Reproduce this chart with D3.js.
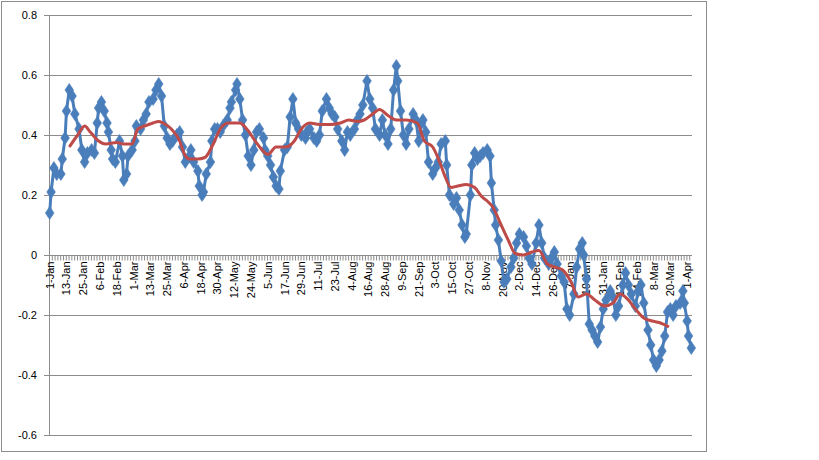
<!DOCTYPE html>
<html>
<head>
<meta charset="utf-8">
<script src="https://cdn.jsdelivr.net/npm/d3@7"></script>
<style>
  body { margin: 0; background: #fff; }
  text { font-family: "Liberation Sans", Arial, sans-serif; }
</style>
</head>
<body>
<div id="chart"></div>
<script>
// day offsets from 1-Jan (leap year) and the observed values
const days = [0,1,3,5,8,9,11,12,14,16,18,21,23,25,27,30,32,34,35,37,39,41,42,44,45,47,50,52,53,55,56,59,61,62,65,67,69,71,74,76,78,80,82,84,86,88,91,93,95,97,100,101,103,106,107,109,110,112,115,116,118,120,122,124,127,129,130,133,134,136,138,140,142,144,146,148,150,153,154,156,158,160,162,164,165,168,170,172,174,176,178,180,183,184,186,189,191,193,195,198,200,202,204,206,209,211,213,215,218,220,222,224,227,229,231,233,236,238,240,242,244,246,248,249,251,253,255,257,260,262,264,266,267,269,271,274,276,278,280,283,284,286,289,291,293,295,297,298,301,302,304,306,308,310,313,315,316,318,319,321,323,325,327,330,332,334,336,339,341,343,345,348,350,352,354,357,359,361,363,366,368,370,372,375,377,379,381,382,384,386,388,390,392,394,396,398,401,403,405,407,410,412,414,416,419,421,423,425,428,430,432,434,436,438,440,442,444,446,448,451,453,454,456,457,459];
const values = [0.14,0.21,0.29,0.27,0.27,0.32,0.39,0.48,0.55,0.53,0.47,0.42,0.35,0.31,0.34,0.35,0.34,0.44,0.49,0.51,0.48,0.44,0.41,0.35,0.32,0.31,0.38,0.33,0.25,0.27,0.33,0.35,0.38,0.43,0.42,0.45,0.47,0.51,0.52,0.55,0.57,0.53,0.43,0.39,0.37,0.38,0.40,0.41,0.36,0.31,0.33,0.35,0.31,0.28,0.23,0.20,0.21,0.27,0.31,0.38,0.42,0.42,0.41,0.43,0.45,0.49,0.51,0.55,0.57,0.52,0.45,0.40,0.33,0.30,0.35,0.41,0.42,0.39,0.35,0.33,0.30,0.26,0.23,0.22,0.28,0.35,0.36,0.46,0.52,0.44,0.42,0.40,0.39,0.41,0.42,0.39,0.38,0.40,0.48,0.52,0.49,0.47,0.46,0.42,0.38,0.35,0.41,0.40,0.42,0.45,0.47,0.50,0.58,0.52,0.49,0.42,0.40,0.45,0.40,0.37,0.42,0.55,0.63,0.58,0.48,0.40,0.37,0.42,0.47,0.45,0.38,0.44,0.45,0.41,0.31,0.27,0.29,0.31,0.37,0.38,0.30,0.20,0.17,0.19,0.15,0.10,0.06,0.07,0.20,0.30,0.34,0.32,0.33,0.34,0.35,0.33,0.24,0.15,0.10,0.05,-0.02,-0.09,-0.08,-0.04,-0.01,0.04,0.07,0.06,0.03,-0.01,-0.03,0.04,0.10,0.04,-0.01,-0.03,-0.01,0.01,-0.03,-0.07,-0.09,-0.18,-0.20,-0.13,-0.04,0.02,0.04,0.00,-0.08,-0.23,-0.25,-0.27,-0.29,-0.24,-0.18,-0.15,-0.12,-0.14,-0.20,-0.17,-0.10,-0.06,-0.10,-0.13,-0.17,-0.12,-0.10,-0.16,-0.25,-0.30,-0.35,-0.37,-0.35,-0.32,-0.27,-0.19,-0.18,-0.20,-0.17,-0.16,-0.12,-0.16,-0.22,-0.27,-0.31];

// moving average
const avgDays = [14,20,25,29,35,40,48,53,59,63,68,74,78,81,87,93,96,100,106,111,117,122,128,136,141,147,152,156,162,169,175,180,186,193,201,208,214,220,225,231,236,242,248,255,263,268,274,279,283,287,292,298,304,309,313,317,322,328,333,339,345,350,356,361,367,373,378,384,390,397,403,408,414,419,425,431,436,443];
const avgValues = [0.36,0.40,0.43,0.41,0.38,0.37,0.375,0.37,0.37,0.42,0.43,0.44,0.445,0.44,0.42,0.38,0.34,0.32,0.32,0.325,0.37,0.42,0.44,0.44,0.42,0.38,0.35,0.335,0.36,0.36,0.38,0.42,0.44,0.435,0.435,0.44,0.45,0.445,0.45,0.47,0.485,0.465,0.45,0.45,0.44,0.38,0.36,0.31,0.26,0.225,0.23,0.235,0.225,0.195,0.18,0.16,0.11,0.05,0.005,0.0,0.01,0.015,-0.03,-0.04,-0.05,-0.09,-0.14,-0.13,-0.15,-0.17,-0.16,-0.13,-0.15,-0.18,-0.21,-0.22,-0.225,-0.24];

const nDays = 460;
const labelEvery = 12;
const yTicks = [0.8, 0.6, 0.4, 0.2, 0, -0.2, -0.4, -0.6];

const start = new Date(2008, 0, 1);
const fmt = d3.timeFormat("%-d-%b");
const dayLabel = (i) => fmt(d3.timeDay.offset(start, i));

const svg = d3.select("#chart").append("svg").attr("width", 819).attr("height", 460);

svg.append("rect").attr("x", 1.5).attr("y", 1.5).attr("width", 705).attr("height", 450)
  .attr("fill", "#fff").attr("stroke", "#8c8c8c");

const x = d3.scaleBand().domain(d3.range(nDays)).range([49, 692]);
const xc = (d) => x(d) + x.bandwidth() / 2;
const y = d3.scaleLinear().domain([-0.6, 0.8]).range([435, 15]);

// gridlines
svg.append("g").selectAll("line").data(yTicks).enter().append("line")
  .attr("x1", 49).attr("x2", 692)
  .attr("y1", (d) => Math.round(y(d)) + 0.5).attr("y2", (d) => Math.round(y(d)) + 0.5)
  .attr("stroke", "#8c8c8c").attr("stroke-width", 1);

// y axis
svg.append("line").attr("x1", 49.5).attr("x2", 49.5).attr("y1", 15).attr("y2", 435).attr("stroke", "#8c8c8c");
svg.append("g").selectAll("line").data(yTicks).enter().append("line")
  .attr("x1", 44).attr("x2", 49)
  .attr("y1", (d) => Math.round(y(d)) + 0.5).attr("y2", (d) => Math.round(y(d)) + 0.5)
  .attr("stroke", "#8c8c8c");
svg.append("g").selectAll("text").data(yTicks).enter().append("text")
  .attr("x", 37).attr("y", (d) => y(d) + 4)
  .attr("text-anchor", "end").attr("font-size", 11).attr("fill", "#000")
  .text((d) => d);

// category axis on the zero line
const y0 = Math.round(y(0)) + 0.5;
svg.append("line").attr("x1", 49).attr("x2", 692).attr("y1", y0).attr("y2", y0).attr("stroke", "#8c8c8c");
svg.append("g").selectAll("line").data(d3.range(0, nDays, 2)).enter().append("line")
  .attr("x1", (d) => x(d) + 0.5).attr("x2", (d) => x(d) + 0.5)
  .attr("y1", y0).attr("y2", y0 + 5)
  .attr("stroke", "#8c8c8c");
svg.append("g").selectAll("text").data(d3.range(0, nDays, labelEvery)).enter().append("text")
  .attr("transform", (d) => `translate(${xc(d) + 4},${y0 + 6}) rotate(-90)`)
  .attr("text-anchor", "end").attr("font-size", 11).attr("fill", "#000")
  .text((d) => dayLabel(d));

// series
const pts = days.map((d, i) => [xc(d), y(values[i])]);
svg.append("path").attr("d", d3.line()(pts))
  .attr("fill", "none").attr("stroke", "#4a7ebb").attr("stroke-width", 3).attr("stroke-linejoin", "round");
svg.append("g").selectAll("path").data(pts).enter().append("path")
  .attr("d", d3.symbol(d3.symbolDiamond, 50)())
  .attr("transform", (p) => `translate(${p[0]},${p[1]}) scale(1.15,1)`)
  .attr("fill", "#4a7ebb").attr("stroke", "#4a7ebb").attr("stroke-width", 0.5);

const avgPts = avgDays.map((d, i) => [xc(d), y(avgValues[i])]);
svg.append("path").attr("d", d3.line().curve(d3.curveMonotoneX)(avgPts))
  .attr("fill", "none").attr("stroke", "#be4b48").attr("stroke-width", 3).attr("stroke-linejoin", "round");
</script>
</body>
</html>
